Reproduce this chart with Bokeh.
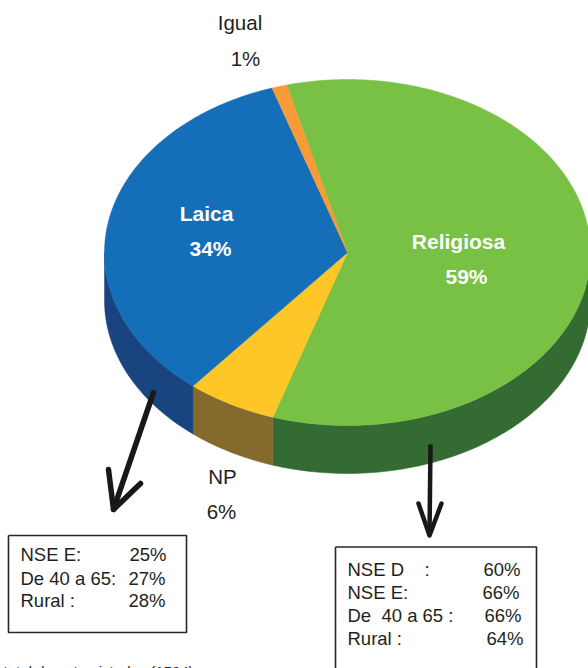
import math
from bokeh.plotting import figure
from bokeh.embed import file_html
from bokeh.resources import INLINE
from bokeh.core.properties import value

# Data
slices = ["Religiosa", "NP", "Laica", "Igual"]
shares = [59, 6, 34, 1]
top_colors = ["#78C144", "#FFC627", "#146EB8", "#F79A38"]
side_colors = ["#336B33", "#846B2D", "#1A4480", "#B5701F"]

left_box = [("NSE E:", "25%"), ("De 40 a 65:", "27%"), ("Rural :", "28%")]
right_box = [("NSE D\u00a0\u00a0\u00a0\u00a0:", "60%"), ("NSE E:", "66%"), ("De\u00a0\u00a040 a 65 :", "66%"), ("Rural :", "64%")]

# Geometry (page pixels)
W, H = 588, 668
CX, CY, RX, RY, DEPTH = 347, 252, 243, 173, 48
START = -14.5  # degrees clockwise from top

FONT = value("Liberation Sans")
INK = "#231F20"

p = figure(width=W, height=H, x_range=(0, W), y_range=(H, 0), output_backend="svg",
           toolbar_location=None, min_border=0, outline_line_color=None,
           background_fill_color="white")
p.axis.visible = False
p.grid.visible = False


def pt(deg, dy=0):
    a = math.radians(deg)
    return CX + RX * math.sin(a), CY - RY * math.cos(a) + dy


def arc(a0, a1, dy=0):
    n = max(2, int(abs(a1 - a0)) + 2)
    return [pt(a0 + (a1 - a0) * i / (n - 1), dy) for i in range(n)]


# Slice angle spans derived from the data
total = sum(shares)
spans = []
a = START
for s in shares:
    spans.append((a, a + 360 * s / total))
    a += 360 * s / total

# Visible side walls: lower half of the ellipse (90..270 deg from the top)
for (a0, a1), col in zip(spans, side_colors):
    lo, hi = max(a0, 90), min(a1, 270)
    if lo < hi:
        top = arc(lo, hi)
        bot = arc(hi, lo, DEPTH)
        pts = top + bot
        p.patch([q[0] for q in pts], [q[1] for q in pts], fill_color=col, line_color=col, line_width=0.5)

# Top faces
for (a0, a1), col in zip(spans, top_colors):
    pts = [(CX, CY)] + arc(a0, a1)
    p.patch([q[0] for q in pts], [q[1] for q in pts], fill_color=col, line_color=col, line_width=0.5)


def label(x, y, s, size=18, color=INK, style="normal", align="center"):
    p.text([x], [y - 1], text=[s], text_font=FONT, text_font_size=f"{size}px", text_color=color,
           text_font_style=style, text_align=align, text_baseline="middle")


# Slice labels
label(458, 242, slices[0], 21, "white", "bold")
label(466, 277, f"{shares[0]}%", 21, "white", "bold")
label(206, 214, slices[2], 21, "white", "bold")
label(210, 249, f"{shares[2]}%", 21, "white", "bold")
label(222, 477, slices[1], 20.5)
label(221, 512, f"{shares[1]}%", 20.5)
label(239.5, 23, slices[3], 20.5)
label(245, 59, f"{shares[3]}%", 20.5)

# Arrows
p.line([153, 113], [392, 509], line_color="#1A1718", line_width=5.5, line_cap="round")
p.line([108, 113, 140], [469, 509, 483], line_color="#1A1718", line_width=5.5, line_cap="round", line_join="round")
p.line([430, 429], [444, 535], line_color="#1A1718", line_width=4.5)
p.line([418, 429, 441], [503, 535, 503], line_color="#1A1718", line_width=4.5, line_cap="round", line_join="round")

# Boxes
for x0, x1, y0, y1 in [(8, 186, 535, 632), (335, 536, 546.5, 700)]:
    p.line([x0, x1, x1, x0, x0], [y0, y0, y1, y1, y0], line_color="#2A2728", line_width=1.6)

for (name, pct), y, xp in zip(left_box, [555, 579, 601], [129, 128, 128]):
    label(20, y, name, 18.5, align="left")
    label(xp, y, pct, 18.5, align="left")
for (name, pct), y, xp in zip(right_box, [570, 593, 616, 639], [483, 482, 484, 486]):
    label(347, y, name, 18.5, align="left")
    label(xp, y, pct, 18.5, align="left")

# Footnote (cropped by the page edge, as in the reference)
p.text([2], [662], text=["total de entrevistados (1504)"], text_font=FONT, text_font_size="15px", text_color=INK,
       text_font_style="italic", text_align="left", text_baseline="top")

open("out.html", "w").write(file_html(p, INLINE))
